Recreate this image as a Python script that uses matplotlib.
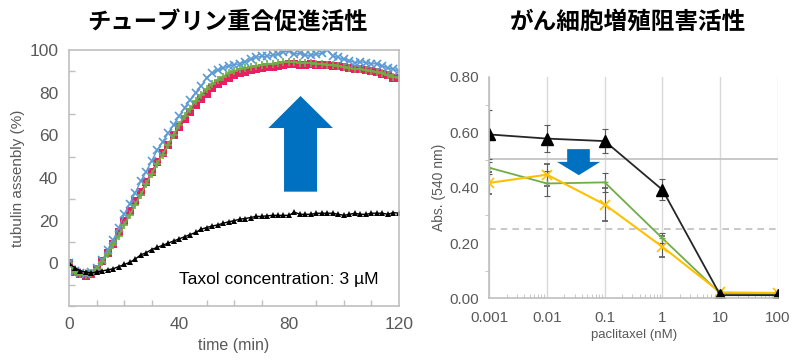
import matplotlib
matplotlib.use("Agg")
import matplotlib.pyplot as plt
import numpy as np
from matplotlib.patches import Polygon
from matplotlib.ticker import MultipleLocator, LogLocator, NullFormatter

plt.rcParams["font.family"] = ["Liberation Sans", "Noto Sans CJK JP", "DejaVu Sans"]

# ---- left panel: tubulin assembly vs time (2-min steps) ----
time_min = np.arange(0, 121, 2)
pink_sq = [0, -4, -5, -6, -5, -2.5, 1, 5, 9, 14.5, 20, 24.5, 29, 33.5, 38, 43,
           47.5, 51.5, 55.5, 60, 64, 67.5, 71, 74, 77, 79.5, 82, 84, 85.5, 87,
           88, 89, 89.5, 90.5, 91, 91.5, 92, 92, 92.5, 93, 93.5, 93.5, 93, 93,
           93.5, 93, 93, 93, 92.5, 92.5, 92, 91.5, 91, 91, 90.5, 90, 89.5, 88.5,
           88, 87, 87]
blue_x = [0, -3.5, -4.5, -5, -4, -2, 1.5, 6.5, 11, 16.5, 23, 28, 33, 38.5, 43,
          48, 53, 57, 61, 65, 69, 73, 76.5, 80, 83, 87, 89, 90.5, 91.5, 92.5,
          93, 93.5, 94.5, 95.5, 96.5, 97, 97, 97.5, 98, 99, 99.5, 98, 98.5,
          97.5, 97.5, 98, 98.5, 100, 97, 96.5, 95.5, 95, 94, 94.5, 94, 93.5,
          93.5, 92.5, 91.5, 91, 90]
green_plus = [0, -4, -5, -5.5, -4.5, -2.5, 0.5, 4.5, 8.5, 13, 18, 22.5, 27.5,
              32, 37, 42, 46.5, 51, 55.5, 60, 65, 69, 72.5, 76, 79, 81.5, 84,
              86, 87.5, 89, 90, 91, 91.5, 92, 92.5, 93, 93.5, 93.5, 94, 94.5,
              94.5, 94.5, 94, 94, 94, 93.5, 93.5, 93, 93, 92.5, 92, 91.5, 91,
              91, 90.5, 90, 89.5, 89, 88, 87.5, 87]
black_tri = [0, -2, -3.5, -4, -4.5, -4, -3.5, -3, -2.5, -1.5, -0.5, 0.5, 2, 4,
             5, 6.5, 7.5, 8.5, 9.5, 10.5, 11.5, 12.5, 13.5, 14.5, 16, 16.8,
             17.5, 18, 18.8, 19.5, 20, 20.7, 21, 21.5, 22, 22, 22.3, 22.5, 22.5,
             22.5, 22.5, 24, 23, 23, 23, 23.5, 23.5, 23.5, 23.5, 23, 22.5, 23,
             23.5, 23, 23, 23.5, 23.5, 23.5, 23, 23.8, 23.5]

# ---- right panel: cell growth vs paclitaxel ----
conc_nM = [0.001, 0.01, 0.1, 1, 10, 100]
abs_black = [0.592, 0.577, 0.568, 0.392, 0.012, 0.012]
err_black = [0.088, 0.048, 0.043, 0.038, 0.006, 0.006]
abs_green = [0.472, 0.415, 0.419, 0.217, 0.018, 0.016]
err_green = [0.022, 0.045, 0.033, 0.018, 0.004, 0.004]
abs_yellow = [0.417, 0.447, 0.339, 0.186, 0.022, 0.020]
err_yellow = [0.040, 0.040, 0.060, 0.038, 0.004, 0.004]

gray_txt = "#595959"
axis_gray = "#BFBFBF"

fig = plt.figure(figsize=(7.98, 3.64), dpi=100)

# left
ax1 = fig.add_axes([0.0868, 0.159, 0.413, 0.704])
ax1.plot(time_min, pink_sq, color="#E91E63", marker="s", ms=5.5, lw=1, mew=0)
ax1.plot(time_min, blue_x, color="#5B9BD5", marker="x", ms=6, lw=1, mew=1.2)
ax1.plot(time_min, green_plus, color="#70AD47", marker="+", ms=5.5, lw=1.3, mew=1.2)
ax1.plot(time_min, black_tri, color="black", marker="^", ms=5, lw=1, mew=0)

ax1.set_xlim(0, 120)
ax1.set_ylim(-20, 100)
ax1.set_xticks([0, 40, 80, 120])
ax1.set_yticks([0, 20, 40, 60, 80, 100])
ax1.xaxis.set_minor_locator(MultipleLocator(10))
ax1.yaxis.set_minor_locator(MultipleLocator(10))
ax1.tick_params(which="both", direction="in", color=axis_gray, labelcolor=gray_txt,
                labelsize=12.5, length=4, width=1)
ax1.tick_params(which="major", length=0, pad=8)
for s in ax1.spines.values():
    s.set_color(axis_gray)
    s.set_linewidth(1.2)
ax1.set_xlabel("time (min)", color=gray_txt, fontsize=11.5, labelpad=4)
ax1.set_ylabel("tubulin assenbly (%)", color=gray_txt, fontsize=11, labelpad=3)
ax1.text(112.5, -7.5, "Taxol concentration: 3 µM", ha="right", va="center",
         fontsize=12.6, color="black")

# block arrow (up)
up_arrow = [(78.2, 33.6), (90.2, 33.6), (90.2, 63.4), (96, 63.4), (84.2, 78.4),
            (72.5, 63.4), (78.2, 63.4)]
ax1.add_patch(Polygon(up_arrow, closed=True, color="#0070C0", zorder=5, lw=0))

# right
ax2 = fig.add_axes([0.613, 0.180, 0.362, 0.609])
ax2.set_xscale("log")
ax2.set_xlim(0.001, 100)
ax2.set_ylim(0, 0.8)
ax2.grid(axis="x", which="major", color="#D9D9D9", lw=1)
ax2.axhline(0.505, color=axis_gray, lw=1.2)
ax2.axhline(0.25, color=axis_gray, lw=1.2, ls=(0, (4, 3)))

ekw = dict(ecolor="#595959", elinewidth=0.8, capsize=2, capthick=0.8)
ax2.errorbar(conc_nM, abs_green, yerr=err_green, color="#70AD47", marker="+",
             ms=5, lw=1.3, **ekw)
ax2.errorbar(conc_nM, abs_yellow, yerr=err_yellow, color="#FFC000", marker="x",
             ms=7, mew=1.2, lw=1.5, **ekw)
ax2.errorbar(conc_nM, abs_black, yerr=err_black, color="#262626", marker="^",
             mfc="black", mec="black", ms=8, lw=1.3, **ekw)

down_arrow = [(0.0224, 0.539), (0.0552, 0.539), (0.0552, 0.493), (0.0835, 0.493),
              (0.0356, 0.445), (0.0149, 0.493), (0.0224, 0.493)]
ax2.add_patch(Polygon(down_arrow, closed=True, color="#0070C0", zorder=5, lw=0))

ax2.set_xticks(conc_nM)
ax2.set_xticklabels(["0.001", "0.01", "0.1", "1", "10", "100"])
ax2.xaxis.set_minor_locator(LogLocator(base=10, subs=np.arange(2, 10), numticks=20))
ax2.xaxis.set_minor_formatter(NullFormatter())
ax2.set_yticks([0, 0.2, 0.4, 0.6, 0.8])
ax2.set_yticklabels(["0.00", "0.20", "0.40", "0.60", "0.80"])
ax2.yaxis.set_minor_locator(MultipleLocator(0.1))
ax2.tick_params(axis="x", which="minor", direction="in", length=3, color=axis_gray)
ax2.tick_params(axis="y", which="minor", direction="out", length=3, color=axis_gray)
ax2.tick_params(which="major", length=0, labelcolor=gray_txt, labelsize=11)
ax2.tick_params(axis="x", which="major", pad=9)
ax2.tick_params(axis="y", which="major", pad=7)
for side in ["top", "right"]:
    ax2.spines[side].set_visible(False)
for side in ["left", "bottom"]:
    ax2.spines[side].set_color(axis_gray)
    ax2.spines[side].set_linewidth(1.2)
ax2.set_xlabel("paclitaxel (nM)", color=gray_txt, fontsize=9.5, labelpad=3)
ax2.set_ylabel("Abs. (540 nm)", color=gray_txt, fontsize=10, labelpad=3)

# titles
fig.text(0.285, 0.94, "チューブリン重合促進活性", ha="center", va="center",
         fontsize=16.8, fontweight="bold", family=["Noto Sans CJK JP"])
fig.text(0.787, 0.94, "がん細胞増殖阻害活性", ha="center", va="center",
         fontsize=17, fontweight="bold", family=["Noto Sans CJK JP"])

fig.savefig("out.png", dpi=100)
